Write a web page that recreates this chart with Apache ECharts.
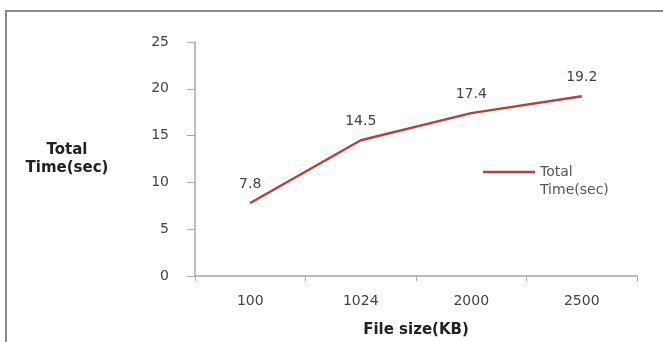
<!DOCTYPE html>
<html><head><meta charset="utf-8">
<script src="https://cdn.jsdelivr.net/npm/echarts@6/dist/echarts.min.js"></script>
<style>html,body{margin:0;padding:0;background:#fff}#c{width:663px;height:342px}</style>
</head><body><div id="c"></div>
<script>
const categories = ['100', '1024', '2000', '2500'];
const totalTime = [7.8, 14.5, 17.4, 19.2];
const seriesName = 'Total Time(sec)';
const yTicks = { min: 0, max: 25, interval: 5 };

const chart = echarts.init(document.getElementById('c'));
const font = 'DejaVu Sans';
const lineColor = '#b5403e';
chart.setOption({
  backgroundColor: '#fff',
  animation: false,
  graphic: [{
    type: 'rect', shape: { x: 6, y: 11, width: 680, height: 360 },
    style: { fill: 'none', stroke: '#8a8a8a', lineWidth: 2 }
  }],
  grid: { left: 195, right: 26, top: 42, bottom: 66, containLabel: false, outerBoundsMode: 'none' },
  legend: {
    left: 483, top: 145, padding: 0,
    itemWidth: 52, itemHeight: 2.5, itemGap: 4,
    data: [{ name: seriesName, icon: 'rect', itemStyle: { color: lineColor } }],
    formatter: () => '\nTotal\nTime(sec)',
    textStyle: { fontFamily: font, fontSize: 14, color: '#555', lineHeight: 18 }
  },
  xAxis: {
    type: 'category', data: categories,
    name: 'File size(KB)', nameLocation: 'middle', nameGap: 47,
    nameTextStyle: { fontFamily: font, fontSize: 15, fontWeight: 'bold', color: '#222' },
    axisLine: { lineStyle: { color: '#a8a8a8', width: 1.5 } },
    axisTick: { show: true, alignWithLabel: false, length: 5, lineStyle: { color: '#a8a8a8' } },
    axisLabel: { fontFamily: font, fontSize: 14, color: '#444', margin: 18 }
  },
  yAxis: {
    type: 'value', min: yTicks.min, max: yTicks.max, interval: yTicks.interval,
    name: 'Total\nTime(sec)', nameLocation: 'middle', nameRotate: 0, nameGap: 128,
    nameTextStyle: { fontFamily: font, fontSize: 15, fontWeight: 'bold', color: '#222', lineHeight: 18, align: 'center' },
    axisLine: { show: true, lineStyle: { color: '#a8a8a8', width: 1.5 } },
    axisTick: { show: true, length: 8, lineStyle: { color: '#a8a8a8' } },
    splitLine: { show: false },
    axisLabel: { fontFamily: font, fontSize: 14, color: '#444', margin: 26 }
  },
  series: [{
    name: seriesName, type: 'line', data: totalTime,
    symbol: 'circle', symbolSize: 1, showSymbol: true,
    lineStyle: { color: lineColor, width: 2.5 },
    itemStyle: { color: lineColor },
    label: { show: true, position: 'top', distance: 11, fontFamily: font, fontSize: 14, color: '#444' }
  }]
});
</script></body></html>
